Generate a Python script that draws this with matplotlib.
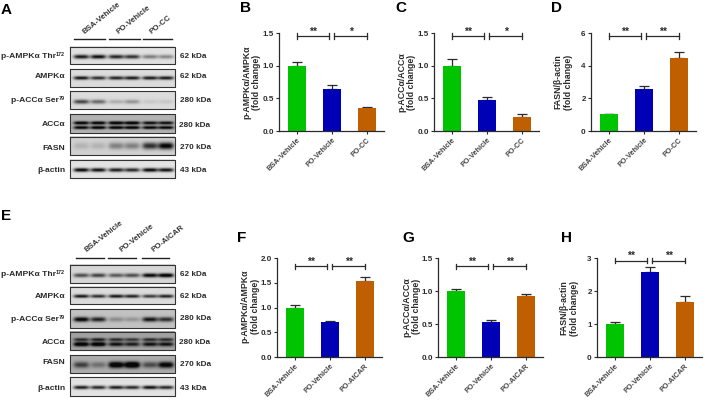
import matplotlib
matplotlib.use('Agg')
import matplotlib.pyplot as plt
import numpy as np

plt.rcParams['font.family'] = ['Liberation Sans', 'DejaVu Sans']
plt.rcParams['font.weight'] = 'bold'

W, H = 708, 407

# Bar data
groups_cc = ['BSA-Vehicle', 'PO-Vehicle', 'PO-CC']
groups_aicar = ['BSA-Vehicle', 'PO-Vehicle', 'PO-AICAR']

b_vals = [1.0, 0.64, 0.36]
b_err = [0.06, 0.07, 0.015]
c_vals = [1.0, 0.48, 0.22]
c_err = [0.10, 0.04, 0.035]
d_vals = [1.02, 2.58, 4.47]
d_err = [0.05, 0.16, 0.40]
f_vals = [1.0, 0.70, 1.55]
f_err = [0.05, 0.03, 0.07]
g_vals = [1.0, 0.53, 0.93]
g_err = [0.04, 0.03, 0.035]
h_vals = [1.0, 2.57, 1.68]
h_err = [0.07, 0.16, 0.18]

# Blot band strengths per lane (0 = no band, 1 = black)
blot_names = ['p-AMPKα Thr', 'AMPKα', 'p-ACCα Ser', 'ACCα', 'FASN', 'β-actin']
blot_sups = ['172', '', '79', '', '', '']
blot_sizes = ['62 kDa', '62 kDa', '280 kDa', '280 kDa', '270 kDa', '43 kDa']

a_pampk = [.8, .85, .75, .7, .4, .35]
a_ampk = [.8, .7, .75, .78, .78, .78]
a_pacc = [.6, .45, .18, .28, .08, .08]
a_acc_up = [.8, .8, .85, .85, .7, .7]
a_acc_lo = [.75, .8, .8, .8, .75, .75]
a_fasn = [.12, .12, .32, .32, .65, .85]
a_actin = [.9, .85, .8, .75, .9, .85]

e_pampk = [.55, .6, .5, .55, .85, .95]
e_ampk = [.8, .7, .8, .75, .65, .75]
e_pacc = [.8, .65, .22, .18, .7, .6]
e_acc_up = [.5, .55, .5, .45, .5, .5]
e_acc_lo = [.8, .8, .6, .55, .6, .6]
e_fasn = [.45, .25, .85, .95, .4, .75]
e_actin = [.8, .75, .8, .75, .85, .75]

GREEN, BLUE, ORANGE = '#00c400', '#0000b4', '#bf5f00'
INK = '#2b2b2b'

fig = plt.figure(figsize=(W / 100, H / 100), dpi=100)

# full-figure layer in pixel coordinates for blots and loose text
bg = fig.add_axes([0, 0, 1, 1])
bg.set_axis_off()


def px_axes(left, right, top, bottom):
    ax = fig.add_axes([left / W, 1 - bottom / H, (right - left) / W, (bottom - top) / H])
    ax.patch.set_alpha(0)
    return ax


def draw_blot(y0, y1, bands, back, lanes, x0=69.5, x1=174.5):
    # bands: list of (strengths, y fraction, half height in px)
    xs = np.linspace(x0, x1, 210)
    ys = np.linspace(y0, y1, 40)
    xx, yy = np.meshgrid(xs, ys)
    img = np.full(xx.shape, back, dtype=float)
    for strengths, frac, hh in bands:
        yc = y0 + frac * (y1 - y0)
        for lane, s in zip(lanes, strengths):
            img -= s * np.exp(-((xx - lane) / 7.8) ** 4) * np.exp(-((yy - yc) / hh) ** 2)
    img = np.clip(img, 0.03, 1)
    bg.imshow(img, cmap='gray', vmin=0, vmax=1, extent=(x0, x1, y1, y0),
              aspect='auto', interpolation='bilinear', zorder=1)
    bg.plot([x0, x1, x1, x0, x0], [y0, y0, y1, y1, y0], color='#333333', lw=0.8, zorder=2)


def blot_panel(rows_y, all_bands, backs, lanes, name_y, size_pos):
    for (y0, y1), bands, back in zip(rows_y, all_bands, backs):
        draw_blot(y0, y1, bands, back, lanes)
    for name, sup, y in zip(blot_names, blot_sups, name_y):
        # superscript is a separate small text so the name keeps its normal spacing
        end = 65 - 3.1 * len(sup)
        bg.text(end, y, name, ha='right', va='center', fontsize=6.1, color=INK)
        if sup:
            bg.text(65, y - 2.2, sup, ha='right', va='center', fontsize=4, color=INK)
    for size, (x, y) in zip(blot_sizes, size_pos):
        bg.text(x, y, size, ha='left', va='center', fontsize=5.9, color=INK)


lanes_a = [80.7, 97.7, 115.7, 131.7, 149.7, 165.7]
rows_a = [(46.7, 64), (68.7, 86.7), (91.3, 109.3), (114.3, 132.7), (137, 155.3), (159.7, 178)]
bands_a = [
    [(a_pampk, .6, 2.0)],
    [(a_ampk, .5, 1.8)],
    [(a_pacc, .6, 2.2)],
    [(a_acc_up, .47, 1.6), (a_acc_lo, .72, 1.6)],
    [(a_fasn, .52, 3.4)],
    [(a_actin, .58, 1.9)],
]
blot_panel(rows_a, bands_a, [.88, .86, .86, .7, .82, .89], lanes_a,
           [57, 77, 101, 124, 148, 170.5],
           [(179.5, 56), (179.5, 77), (179.5, 100), (179, 125.5), (179.5, 147.5), (179.5, 171)])

lanes_e = [80.7, 97.7, 115.7, 131.7, 149.7, 165.7]
rows_e = [(265, 283.3), (286.7, 304.3), (309, 327.7), (331.7, 350.3), (354.7, 372.7), (377.3, 395.7)]
bands_e = [
    [(e_pampk, .6, 2.0)],
    [(e_ampk, .57, 1.7)],
    [(e_pacc, .55, 2.4)],
    [(e_acc_up, .45, 1.6), (e_acc_lo, .7, 2.2)],
    [(e_fasn, .55, 3.2)],
    [(e_actin, .55, 1.8)],
]
blot_panel(rows_e, bands_e, [.84, .86, .76, .64, .68, .89], lanes_e,
           [275, 296, 319.5, 342, 363, 388],
           [(179.5, 275), (179.5, 296), (180, 318.5), (179, 343), (179.5, 364), (179.5, 388)])

# group headers above the blots
for x0, x1, y in [(74.3, 105.3, 39.3), (109, 140, 39.3), (143.3, 172, 39.3),
                  (76, 103.5, 257.5), (108, 136, 257.5), (141.5, 169, 257.5)]:
    bg.plot([x0, x1], [y, y], color='#222222', lw=1.0)
for name, x, y in [('BSA-Vehicle', 86, 36), ('PO-Vehicle', 120, 36), ('PO-CC', 153, 36)]:
    bg.text(x, y, name, rotation=39, rotation_mode='anchor', ha='left', va='bottom',
            fontsize=5.7, color='#333333')
for name, x, y in [('BSA-Vehicle', 88, 254), ('PO-Vehicle', 123, 254), ('PO-AICAR', 155, 254)]:
    bg.text(x, y, name, rotation=38, rotation_mode='anchor', ha='left', va='bottom',
            fontsize=5.7, color='#333333')

# panel letters
for letter, x, y in [('A', 1, 9.5), ('B', 240, 8), ('C', 395.5, 8), ('D', 551, 8),
                     ('E', 1.5, 216), ('F', 237.5, 238), ('G', 402, 238), ('H', 561, 238)]:
    bg.text(x, y, letter, ha='left', va='center', fontsize=11, color='black')

bg.set_xlim(0, W)
bg.set_ylim(H, 0)


def bracket(ax, x0, x1, y, label):
    trans = ax.get_xaxis_transform()
    h = y / ax.get_ylim()[1]
    ax.plot([x0, x1], [h, h], transform=trans, color=INK, lw=0.9, clip_on=False)
    for x in (x0, x1):
        ax.plot([x, x], [h - 0.027, h + 0.027], transform=trans, color=INK, lw=0.9, clip_on=False)
    ax.text((x0 + x1) / 2, h - 0.005, label, transform=trans, ha='center', va='bottom',
            fontsize=7.5, color=INK, clip_on=False)


def panel(box, vals, errs, groups, ymax, ticks, ylab, lab_xy, b_y, stars):
    ax = px_axes(*box)
    pos = np.arange(3)
    ax.bar(pos, vals, width=0.52, color=[GREEN, BLUE, ORANGE], zorder=2)
    ax.errorbar(pos, vals, yerr=[[0, 0, 0], errs], fmt='none', ecolor=INK,
                elinewidth=0.9, capsize=3.5, capthick=0.9, zorder=1)
    ax.set_xlim(-0.5, 2.5)
    ax.set_ylim(0, ymax)
    ax.set_xticks(pos)
    ax.set_xticklabels(groups, rotation=45, ha='right', rotation_mode='anchor',
                       fontsize=5.3, color='#444444')
    ax.set_yticks([float(t) for t in ticks])
    ax.set_yticklabels(ticks, fontsize=5.8, color=INK)
    ax.tick_params(length=2.5, width=0.8, pad=1.5, color=INK)
    for side in ('top', 'right'):
        ax.spines[side].set_visible(False)
    for side in ('left', 'bottom'):
        ax.spines[side].set_linewidth(0.9)
        ax.spines[side].set_color(INK)
    bracket(ax, 0, 0.93, b_y, stars[0])
    bracket(ax, 1.07, 2, b_y, stars[1])
    bg.text(lab_xy[0], lab_xy[1], ylab, rotation=90, ha='center', va='center',
            ma='center', fontsize=6.3, color=INK, linespacing=1.15)


ratio_ampk = 'p-AMPKα/AMPKα\n(fold change)'
ratio_acc = 'p-ACCα/ACCα\n(fold change)'
ratio_fasn = 'FASN/β-actin\n(fold change)'
t15 = ['0.0', '0.5', '1.0', '1.5']
t20 = ['0.0', '0.5', '1.0', '1.5', '2.0']

panel((279.3, 384.3, 33.3, 131), b_vals, b_err, groups_cc, 1.5, t15, ratio_ampk, (251.7, 82), 1.46, ('**', '*'))
panel((434.3, 539.3, 33.3, 131), c_vals, c_err, groups_cc, 1.5, t15, ratio_acc, (406.7, 82), 1.46, ('**', '*'))
panel((591.3, 696.3, 33.3, 131), d_vals, d_err, groups_cc, 6, ['0', '2', '4', '6'], ratio_fasn, (563, 82), 5.83, ('**', '**'))
panel((277.3, 382.3, 258.3, 357), f_vals, f_err, groups_aicar, 2.0, t20, ratio_ampk, (250.3, 306.7), 1.84, ('**', '**'))
panel((438.3, 543.3, 258.3, 357), g_vals, g_err, groups_aicar, 1.5, t15, ratio_acc, (411.7, 306.7), 1.38, ('**', '**'))
panel((597.3, 702.3, 258.3, 357), h_vals, h_err, groups_aicar, 3, ['0', '1', '2', '3'], ratio_fasn, (569, 308), 2.93, ('**', '**'))

fig.savefig('out.png', dpi=100)
